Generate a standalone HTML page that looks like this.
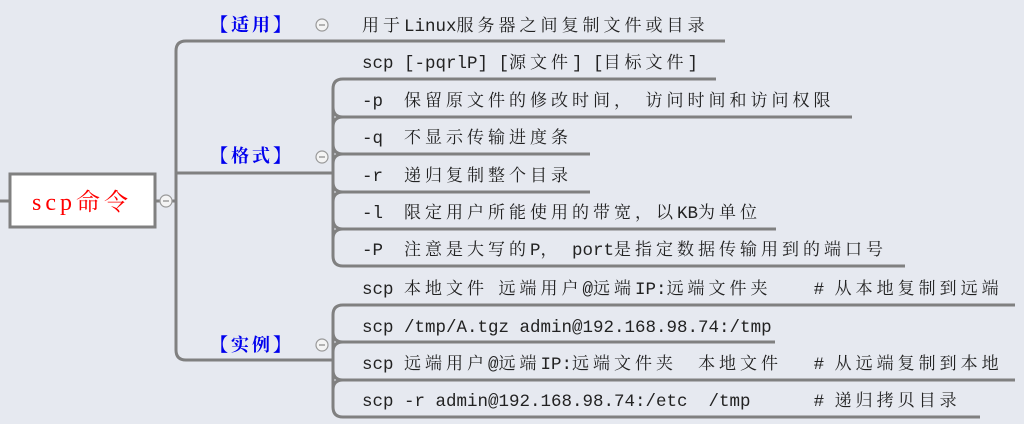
<!DOCTYPE html>
<html><head><meta charset="utf-8"><style>
html,body{margin:0;padding:0;background:#e6e9f0;}
svg{display:block}
text{font-family:"Liberation Mono","Noto Serif CJK SC",monospace;font-size:17.5px;fill:#222;white-space:pre;}
.c{font-family:"Noto Serif CJK SC",serif;font-size:17px;letter-spacing:4px}
.lb{font-family:"Liberation Serif","Noto Serif CJK SC",serif;font-size:18px;fill:#0000ee;font-weight:bold;letter-spacing:3px}
</style></head><body>
<svg width="1024" height="424" viewBox="0 0 1024 424" xml:space="preserve">
<rect width="1024" height="424" fill="#e6e9f0"/>
<g stroke="#808080" stroke-width="3" fill="none">
<line x1="0" y1="201" x2="10" y2="201"/>
<line x1="155" y1="201" x2="176" y2="201"/>
<path d="M186 41 Q176 41 176 51 L176 350 Q176 360 186 360 L330 360"/>
<line x1="186" y1="41" x2="725" y2="41"/>
<line x1="176" y1="173" x2="333" y2="173"/>
<path d="M343 79 Q333 79 333 89 L333 256 Q333 266 343 266 L905 266"/>
<line x1="343" y1="79" x2="716" y2="79"/>
<path d="M343 117 Q333 117 333 127 M333 107 Q333 117 343 117 L852 117"/>
<path d="M343 154 Q333 154 333 164 M333 144 Q333 154 343 154 L590 154"/>
<path d="M343 192 Q333 192 333 202 M333 182 Q333 192 343 192 L590 192"/>
<path d="M343 229 Q333 229 333 239 M333 219 Q333 229 343 229 L776 229"/>
<line x1="320" y1="360" x2="333" y2="360"/>
<path d="M343 305 Q333 305 333 315 L333 407 Q333 417 343 417 L980 417"/>
<line x1="343" y1="305" x2="1015" y2="305"/>
<path d="M343 342 Q333 342 333 352 M333 332 Q333 342 343 342 L775 342"/>
<path d="M343 380 Q333 380 333 390 M333 370 Q333 380 343 380 L1015 380"/>
</g>
<rect x="10" y="174" width="145" height="53" fill="#fff" stroke="#808080" stroke-width="3"/>
<text x="82" y="210" text-anchor="middle" style="font-family:'Liberation Serif','Noto Serif CJK SC',serif;font-size:24px;fill:#f00;letter-spacing:4px">scp命令</text>
<g fill="#f4f4f4" stroke="#999" stroke-width="1.2">
<circle cx="166" cy="201" r="6"/><circle cx="322" cy="25" r="6"/><circle cx="322" cy="157" r="6"/><circle cx="322" cy="345" r="6"/>
</g>
<g stroke="#888" stroke-width="1.2">
<line x1="163" y1="201" x2="169" y2="201"/><line x1="319" y1="25" x2="325" y2="25"/><line x1="319" y1="157" x2="325" y2="157"/><line x1="319" y1="345" x2="325" y2="345"/>
</g>
<text class="lb" x="210" y="31">【适用】</text>
<text class="lb" x="210" y="162">【格式】</text>
<text class="lb" x="210" y="351">【实例】</text>
<text x="362" y="31"><tspan class="c">用于</tspan>Linux<tspan class="c">服务器之间复制文件或目录</tspan></text>
<text x="362" y="68">scp [-pqrlP] [<tspan class="c">源文件</tspan>] [<tspan class="c">目标文件</tspan>]</text>
<text x="362" y="106">-p  <tspan class="c">保留原文件的修改时间，</tspan> <tspan class="c">访问时间和访问权限</tspan></text>
<text x="362" y="143">-q  <tspan class="c">不显示传输进度条</tspan></text>
<text x="362" y="181">-r  <tspan class="c">递归复制整个目录</tspan></text>
<text x="362" y="218">-l  <tspan class="c">限定用户所能使用的带宽，以</tspan>KB<tspan class="c">为单位</tspan></text>
<text x="362" y="255">-P  <tspan class="c">注意是大写的</tspan>P<tspan class="c">，</tspan> port<tspan class="c">是指定数据传输用到的端口号</tspan></text>
<text x="362" y="294">scp <tspan class="c">本地文件</tspan> <tspan class="c">远端用户</tspan>@<tspan class="c">远端</tspan>IP:<tspan class="c">远端文件夹</tspan>    # <tspan class="c">从本地复制到远端</tspan></text>
<text x="362" y="332">scp /tmp/A.tgz admin@192.168.98.74:/tmp</text>
<text x="362" y="369">scp <tspan class="c">远端用户</tspan>@<tspan class="c">远端</tspan>IP:<tspan class="c">远端文件夹</tspan>  <tspan class="c">本地文件</tspan>   # <tspan class="c">从远端复制到本地</tspan></text>
<text x="362" y="406">scp -r admin@192.168.98.74:/etc  /tmp      # <tspan class="c">递归拷贝目录</tspan></text>
</svg>
</body></html>
